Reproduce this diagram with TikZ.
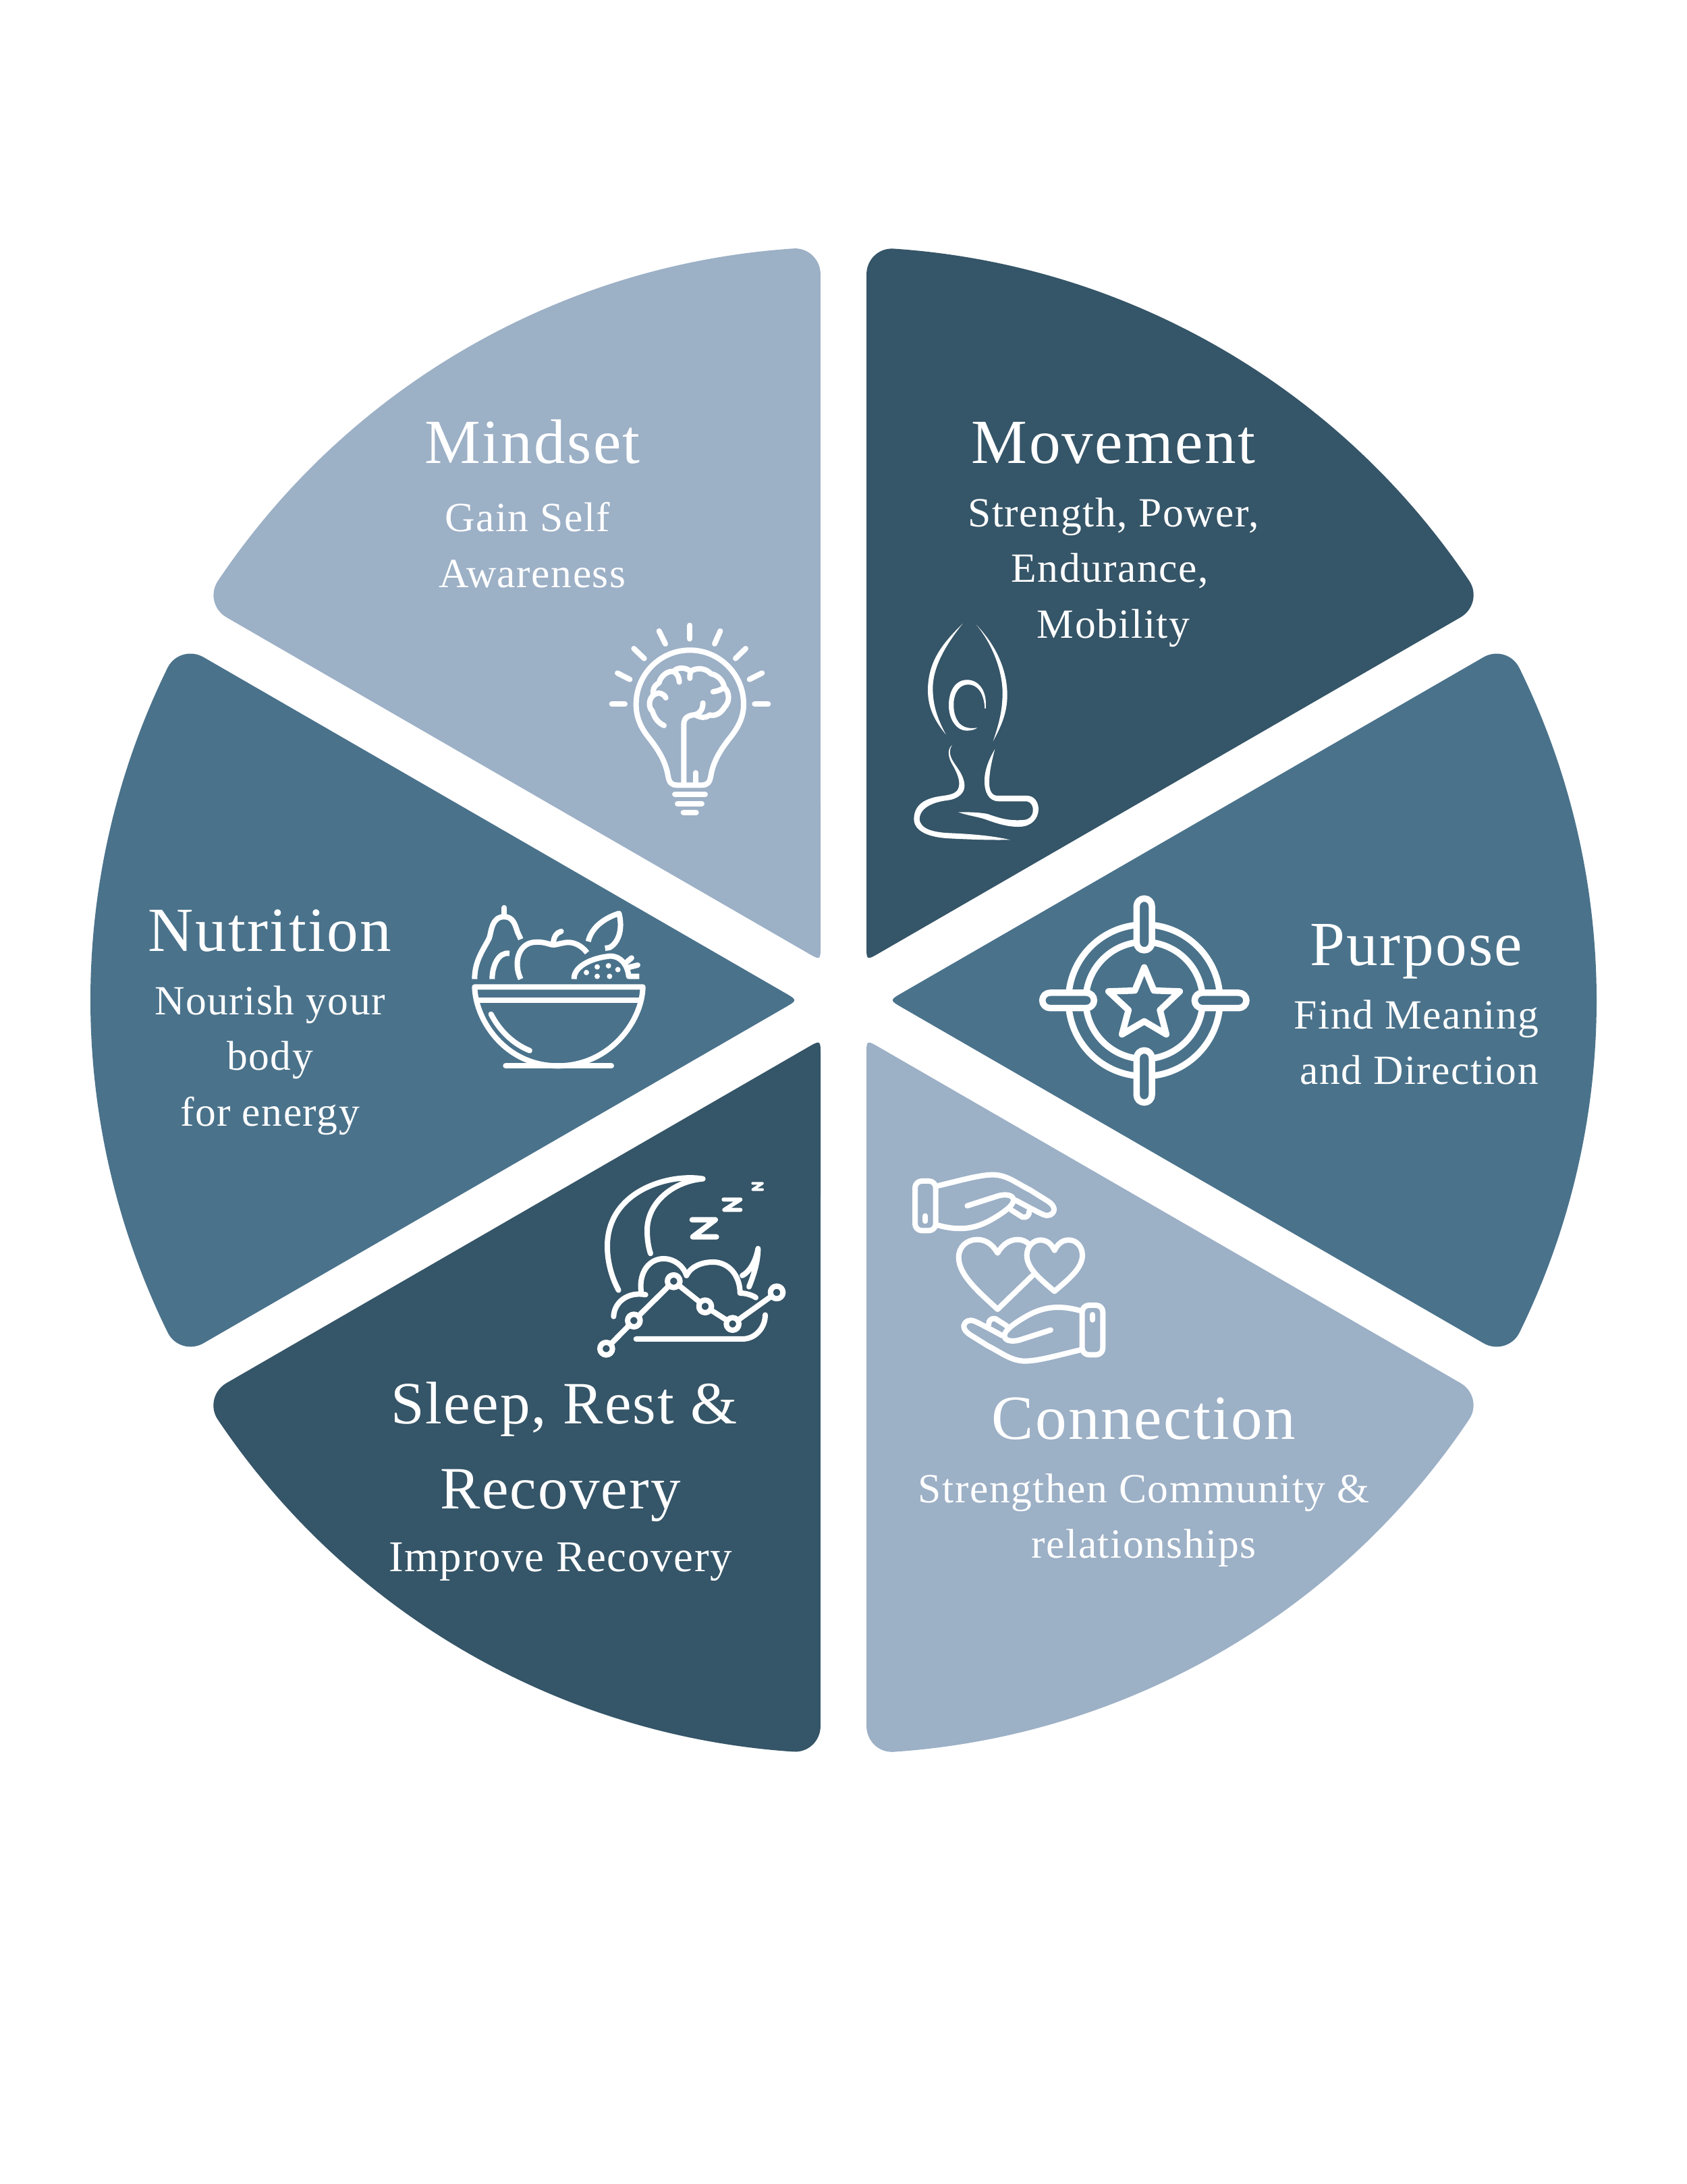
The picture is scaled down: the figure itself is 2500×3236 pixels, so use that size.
\documentclass[tikz,border=0pt]{standalone}
\usepackage{fontspec}
\setmainfont[LetterSpace=2.5]{Liberation Serif}
\usetikzlibrary{positioning,calc}
\definecolor{darkblue}{HTML}{355568}
\definecolor{midblue}{HTML}{4A728B}
\definecolor{lightblue}{HTML}{9CB0C6}

\begin{document}
\begin{tikzpicture}[
    x=0.01cm, y=0.01cm,
    node distance=8pt,
    head/.style={text=white, inner sep=0pt, anchor=base, text height=18pt, text depth=6pt, font=\fontsize{26.5}{31}\selectfont},
    sub/.style={text=white, inner sep=0pt, align=center, font=\fontsize{17.5}{23.5}\selectfont, execute at begin node=\strut},
    icon/.style={draw=white, line width=0.08cm, line cap=round, line join=round},
    thinicon/.style={icon, line width=0.06cm},
    solid/.style={fill=white, draw=none},
    cropscale/.style={xscale=1/3, yscale=-1/3}
]
    \useasboundingbox (0,0) rectangle (2500,3236);

    \foreach \ang/\shade in {60/darkblue,0/midblue,-60/lightblue,-120/darkblue,180/midblue,120/lightblue}
        \fill[\shade, shift={(1250,1754)}, rotate=\ang]
            ($(-28.25:1116)+(150:40)$) -- ($(68,0)+(-30:22)$) .. controls (68,0) .. ($(68,0)+(30:22)$) -- ($(28.25:1116)+(210:40)$)
            .. controls ($(28.25:1116)+(210:18)$) and (27.33:1116) .. (26.2:1116) arc[start angle=26.2, end angle=-26.2, radius=11.16cm]
            .. controls (-27.33:1116) and ($(-28.25:1116)+(150:18)$) .. ($(-28.25:1116)+(150:40)$) -- cycle;

    \node[head] (mindset) at (789,2549) {Mindset};
    \node[sub, below=10pt of mindset] (mindsetsub) {Gain Self\kern4pt\\Awareness};
    \node[head] (movement) at (1650,2549) {Movement};
    \node[sub, below=of movement] (movementsub) {Strength, Power,\\Endurance,\kern3pt\\Mobility};
    \node[head] (purpose) at (2099,1805) {Purpose};
    \node[sub, below=of purpose] (purposesub) {Find Meaning\\\kern2.4pt and Direction};
    \node[head] (nutrition) at (400,1826) {Nutrition};
    \node[sub, below=of nutrition] (nutritionsub) {Nourish your\\body\\for energy};
    \node[head, font=\fontsize{25.3}{31}\selectfont] (sleep) at (836,1126) {Sleep, Rest \&};
    \node[head, font=\fontsize{25.3}{31}\selectfont, below=11.2pt of sleep, anchor=north, xshift=-1.5pt] (recovery) {Recovery};
    \node[sub, font=\fontsize{18.5}{23.5}\selectfont, below=3.6pt of recovery] (recoverysub) {Improve Recovery};
    \node[head] (connection) at (1695,1103) {Connection};
    \node[sub, below=of connection] (connectionsub) {Strengthen Community \&\\relationships};

    \begin{scope}[shift={(860,2356)}, cropscale]
        \foreach \ax/\ay/\bx/\by in {487/140/487/200,350/165/378/222,622/165/597/222,238/243/284/287,735/243/690/287,165/352/220/380,808/352/752/380,140/490/198/490,775/490/835/490}
            \draw[icon] (\ax,\ay) -- (\bx,\by);
        \draw[icon] (430,850) .. controls (405,850) and (395,838) .. (390,810) .. controls (380,745) and (345,690) .. (305,640) .. controls (265,590) and (248,545) .. (248,490) .. controls (248,358) and (355,250) .. (487,250) .. controls (619,250) and (726,358) .. (726,490) .. controls (726,545) and (705,590) .. (665,640) .. controls (625,690) and (590,745) .. (580,810) .. controls (575,838) and (565,850) .. (540,850) -- cycle;
        \draw[icon] (460,850) -- (460,580) .. controls (460,550) and (480,540) .. (510,537) .. controls (530,533) and (545,515) .. (545,485);
        \draw[icon] (510,537) .. controls (535,550) and (555,555) .. (575,538) .. controls (600,545) and (625,530) .. (640,505) .. controls (665,480) and (665,440) .. (640,415) .. controls (635,385) and (610,360) .. (580,355) .. controls (560,330) and (515,325) .. (490,345) .. controls (470,325) and (430,325) .. (415,345) .. controls (385,340) and (355,370) .. (350,395) .. controls (325,410) and (320,430) .. (325,450) .. controls (300,470) and (305,510) .. (320,520) .. controls (330,555) and (350,575) .. (372,585);
        \draw[icon] (380,462) .. controls (370,440) and (345,435) .. (325,450);
        \draw[icon] (590,435) .. controls (610,432) and (630,425) .. (640,415);
        \draw[icon] (440,392) .. controls (440,370) and (430,355) .. (415,345);
        \draw[icon] (487,375) .. controls (487,365) and (487,355) .. (490,345);
        \draw[icon] (513,795) -- (513,850);
        \draw[icon] (420,890) -- (555,890);
        \draw[icon] (432,932) -- (540,932);
        \draw[icon] (458,972) -- (515,972);
    \end{scope}

    \begin{scope}[shift={(1320,2356)}, cropscale]
        \fill[solid] (320,132) .. controls (230,220) and (165,300) .. (165,430) .. controls (165,510) and (200,570) .. (245,625) .. controls (205,550) and (187,490) .. (187,420) .. controls (187,320) and (250,220) .. (320,132) -- cycle;
        \fill[solid] (380,137) .. controls (470,230) and (518,340) .. (518,450) .. controls (518,530) and (490,590) .. (455,655) .. controls (480,580) and (497,520) .. (497,440) .. controls (497,340) and (450,220) .. (380,137) -- cycle;
        \fill[solid] (422,510) .. controls (430,430) and (390,382) .. (340,382) .. controls (285,382) and (258,435) .. (258,495) .. controls (258,560) and (295,610) .. (340,608) .. controls (360,607) and (375,603) .. (385,595) .. controls (350,600) and (325,595) .. (305,575) .. controls (285,550) and (278,520) .. (280,480) .. controls (285,430) and (310,403) .. (345,403) .. controls (385,403) and (415,440) .. (418,510) -- cycle;
        \fill[solid] (273,672) .. controls (250,690) and (255,725) .. (272,755) .. controls (295,795) and (310,830) .. (302,860) .. controls (295,885) and (270,892) .. (235,897) .. controls (170,905) and (105,925) .. (103,1000) .. controls (103,1060) and (180,1083) .. (260,1087) .. controls (360,1092) and (450,1095) .. (530,1093) .. controls (450,1075) and (370,1068) .. (260,1063) .. controls (190,1060) and (130,1045) .. (128,1000) .. controls (130,950) and (190,925) .. (250,918) .. controls (300,912) and (330,885) .. (328,850) .. controls (325,800) and (290,770) .. (272,735) .. controls (260,710) and (260,690) .. (273,672) -- cycle;
        \fill[solid] (463,690) .. controls (430,745) and (415,795) .. (417,840) .. controls (418,880) and (435,922) .. (480,922) -- (605,922) .. controls (625,925) and (634,945) .. (632,965) .. controls (630,990) and (615,1003) .. (590,1005) .. controls (520,1010) and (480,995) .. (430,978) .. controls (390,970) and (340,970) .. (300,970) .. controls (340,985) and (385,990) .. (420,1002) .. controls (470,1020) and (520,1037) .. (575,1035) .. controls (625,1033) and (657,1000) .. (657,955) .. controls (655,920) and (635,897) .. (605,897) -- (475,897) .. controls (450,897) and (438,875) .. (438,840) .. controls (438,790) and (450,740) .. (463,690) -- cycle;
    \end{scope}

    \begin{scope}[shift={(660,1936)}, cropscale]
        \draw[icon] (130,487) .. controls (135,640) and (270,838) .. (500,838) .. controls (730,838) and (875,640) .. (878,487) -- cycle;
        \draw[icon] (268,838) -- (738,838);
        \draw[icon] (142,547) -- (868,547);
        \draw[icon] (203,608) .. controls (240,680) and (300,740) .. (375,770);
        \draw[icon, line cap=butt] (130,452) .. controls (130,370) and (170,320) .. (195,270) .. controls (205,240) and (205,175) .. (262,175) .. controls (300,175) and (310,210) .. (318,235) .. controls (322,250) and (330,260) .. (335,275);
        \draw[icon] (262,135) -- (262,175);
        \draw[icon, line cap=butt] (208,452) .. controls (208,395) and (235,330) .. (285,338);
        \draw[icon, line cap=butt] (335,452) .. controls (300,380) and (325,290) .. (400,288) .. controls (440,285) and (465,300) .. (480,300) .. controls (500,300) and (530,285) .. (560,290) .. controls (590,295) and (615,315) .. (630,335);
        \draw[icon] (480,295) .. controls (480,265) and (495,245) .. (515,240);
        \draw[icon, line cap=butt] (635,285) .. controls (650,220) and (710,180) .. (772,160) .. controls (790,230) and (770,290) .. (730,312) -- (710,315);
        \draw[icon, line cap=butt] (572,452) .. controls (570,400) and (640,360) .. (730,350) .. controls (780,348) and (810,390) .. (815,440) -- (862,440);
        \draw[icon] (815,400) -- (855,390);
        \draw[icon] (808,375) -- (828,358);
        \foreach \dotx/\doty in {627/423,675/398,725/393,767/410,675/440,730/440}
            \fill[solid] (\dotx,\doty) circle (12);
    \end{scope}

    \begin{scope}[shift={(1500,1936)}, cropscale]
        \draw[icon, line width=0.095cm] (587,547) circle (337);
        \draw[icon, line width=0.095cm] (587,547) circle (260);
        \draw[icon, line width=0.095cm, fill=midblue, rounded corners=1.13mm] (553,94) rectangle (621,324);
        \draw[icon, line width=0.095cm, fill=midblue, rounded corners=1.13mm] (553,769) rectangle (621,1001);
        \draw[icon, line width=0.095cm, fill=midblue, rounded corners=1.13mm] (134,513) rectangle (364,581);
        \draw[icon, line width=0.095cm, fill=midblue, rounded corners=1.13mm] (811,513) rectangle (1041,581);
        \draw[icon, line width=0.095cm] (587,400) -- (630,503) -- (745,507) -- (657,590) -- (685,698) -- (587,640) -- (488,698) -- (517,590) -- (428,507) -- (545,503) -- cycle;
    \end{scope}

    \begin{scope}[shift={(860,1536)}, cropscale]
        \draw[icon] (170,635) .. controls (140,580) and (120,510) .. (120,440) .. controls (120,190) and (400,115) .. (545,140) .. controls (420,150) and (297,240) .. (297,370) .. controls (297,410) and (303,445) .. (312,472);
        \draw[icon] (720,570) .. controls (750,555) and (780,510) .. (790,450) .. controls (790,510) and (770,570) .. (750,620);
        \draw[icon] (497,322) -- (600,322) -- (500,398) -- (605,398);
        \draw[thinicon] (637,232) -- (712,232) -- (640,278) -- (712,278);
        \draw[thinicon, line width=0.04cm] (766,160) -- (810,160) -- (766,188) -- (810,188);
        \draw[icon] (148,752) .. controls (150,690) and (210,640) .. (290,655);
        \draw[icon] (270,640) .. controls (260,550) and (310,495) .. (370,495) .. controls (420,495) and (460,530) .. (472,570) .. controls (490,530) and (540,510) .. (590,510) .. controls (660,510) and (710,570) .. (710,648) .. controls (740,648) and (770,660) .. (780,668);
        \draw[icon] (248,852) -- (720,852) .. controls (780,852) and (822,800) .. (822,745);
        \draw[icon] (115,895) -- (238,770) -- (415,595) -- (555,707) -- (677,785) -- (873,645);
        \foreach \ptx/\pty in {115/895,238/770,415/595,555/707,677/785,873/645}
            \draw[icon, fill=darkblue] (\ptx,\pty) circle (28);
    \end{scope}

    \begin{scope}[shift={(1320,1536)}, cropscale]
        \foreach \ang in {0,180} {
            \begin{scope}[rotate around={\ang:(525.5,536)}]
                \draw[icon, rounded corners=0.1cm] (108,150) rectangle (200,370);
                \draw[icon] (154,305) -- (154,328);
                \draw[icon] (205,172) .. controls (300,150) and (400,120) .. (460,122) .. controls (520,125) and (560,160) .. (620,190) -- (700,240) .. controls (730,260) and (735,285) .. (710,300) .. controls (690,310) and (670,295) .. (620,270) -- (555,235);
                \draw[icon] (340,260) -- (480,215) .. controls (520,205) and (550,215) .. (545,240) .. controls (540,260) and (510,285) .. (450,320) .. controls (380,360) and (310,375) .. (205,345);
                \draw[icon] (535,278) -- (585,310) .. controls (605,315) and (618,300) .. (615,285);
            \end{scope}
        }
        \draw[icon] (630,570) -- (475,720) .. controls (400,650) and (302,570) .. (302,490) .. controls (302,440) and (340,410) .. (385,410) .. controls (425,410) and (455,435) .. (475,470) .. controls (495,435) and (525,410) .. (565,410) .. controls (585,410) and (600,418) .. (612,428);
        \draw[icon] (728,640) .. controls (670,590) and (605,540) .. (605,480) .. controls (605,440) and (635,412) .. (665,412) .. controls (695,412) and (715,430) .. (728,458) .. controls (742,430) and (762,412) .. (792,412) .. controls (825,412) and (852,440) .. (852,480) .. controls (852,540) and (785,590) .. (728,640) -- cycle;
    \end{scope}
\end{tikzpicture}
\end{document}
